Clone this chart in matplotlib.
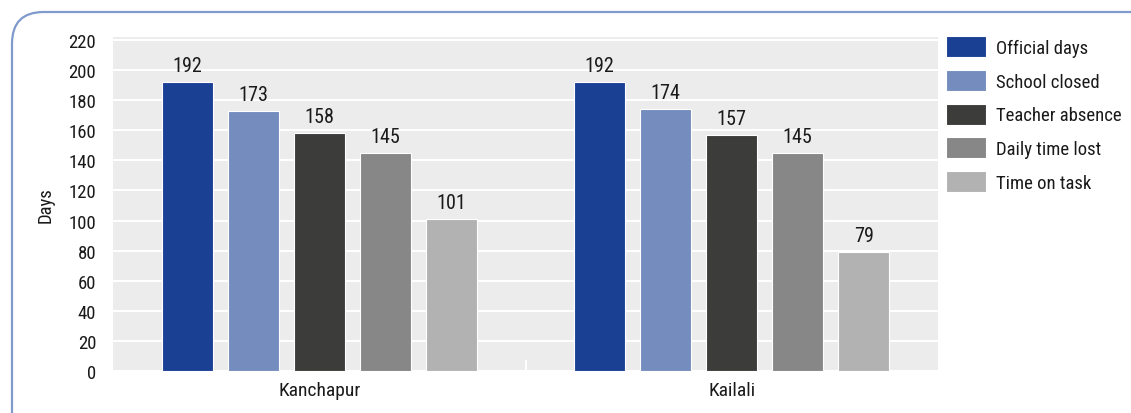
import matplotlib
matplotlib.use("Agg")
import matplotlib.pyplot as plt
from matplotlib import font_manager
from matplotlib.patches import FancyBboxPatch
import numpy as np

categories = ["Kanchapur", "Kailali"]
series_names = ["Official days", "School closed", "Teacher absence", "Daily time lost", "Time on task"]
official_days = [192, 192]
school_closed = [173, 174]
teacher_absence = [158, 157]
daily_time_lost = [145, 145]
time_on_task = [101, 79]
yticks = [0, 20, 40, 60, 80, 100, 120, 140, 160, 180, 200, 220]

series_values = [official_days, school_closed, teacher_absence, daily_time_lost, time_on_task]
colors = ["#1a4094", "#748dbe", "#3c3c3b", "#878787", "#b2b2b2"]

names = {f.name for f in font_manager.fontManager.ttflist}
family = "DejaVu Sans"
stretch = "normal"
for cand in ["Liberation Sans Narrow", "DejaVu Sans Condensed", "Roboto Condensed", "Open Sans Condensed"]:
    if cand in names:
        family = cand
        break
else:
    stretch = "condensed"
plt.rcParams["font.family"] = [family, "DejaVu Sans"]
plt.rcParams["font.stretch"] = stretch

W, H = 1131, 414
fig = plt.figure(figsize=(W / 100, H / 100), dpi=100)

# rounded frame
frame = FancyBboxPatch((12 / W, -40 / H), 1.2, (414 - 13 + 40) / H,
                       boxstyle="round,pad=0,rounding_size=0.028",
                       transform=fig.transFigure, fill=False,
                       edgecolor="#7f9acb", linewidth=1.6, clip_on=False,
                       mutation_aspect=W / H)
fig.patches.append(frame)

ax = fig.add_axes([113 / W, (H - 372) / H, (938 - 113) / W, (372 - 38) / H])
ax.set_facecolor("#ececec")
x = np.arange(len(categories))
bw = 0.124
step = 0.16
for i, (vals, col, name) in enumerate(zip(series_values, colors, series_names)):
    pos = x + (i - 2) * step
    bars = ax.bar(pos, vals, width=bw, color=col, edgecolor="white", linewidth=0.8,
                  label=name, zorder=3)
    for b, v in zip(bars, vals):
        ax.annotate(str(v), (b.get_x() + b.get_width() / 2, v), xytext=(0, 8),
                    textcoords="offset points", ha="center", va="baseline",
                    fontsize=14.5, color="#1a1a1a")

ax.set_xlim(-0.5, 1.5)
ax.set_ylim(0, 222)
ax.set_yticks(yticks)
ax.yaxis.grid(True, color="white", linewidth=1.5, zorder=0)
ax.set_axisbelow(True)
for s in ax.spines.values():
    s.set_visible(False)
ax.tick_params(axis="y", length=0, labelsize=13.5, pad=12, labelcolor="#1a1a1a")
ax.set_xticks(x)
ax.set_xticklabels(categories)
ax.tick_params(axis="x", length=0, labelsize=14, pad=7, labelcolor="#1a1a1a")
ax.set_xticks([0.5], minor=True)
ax.tick_params(axis="x", which="minor", direction="in", length=8, color="white", width=1.5)
ax.set_ylabel("Days", fontsize=13.5, labelpad=10, color="#1a1a1a")

handles, labels = ax.get_legend_handles_labels()
leg = fig.legend(handles, labels, loc="upper left", bbox_to_anchor=(946 / W, (H - 37) / H),
                 frameon=False, fontsize=13.5, handlelength=2.15, handleheight=1.35,
                 handletextpad=0.5, labelspacing=0.68, borderpad=0, borderaxespad=0)
for t in leg.get_texts():
    t.set_color("#1a1a1a")

fig.savefig("out.png", dpi=100)
